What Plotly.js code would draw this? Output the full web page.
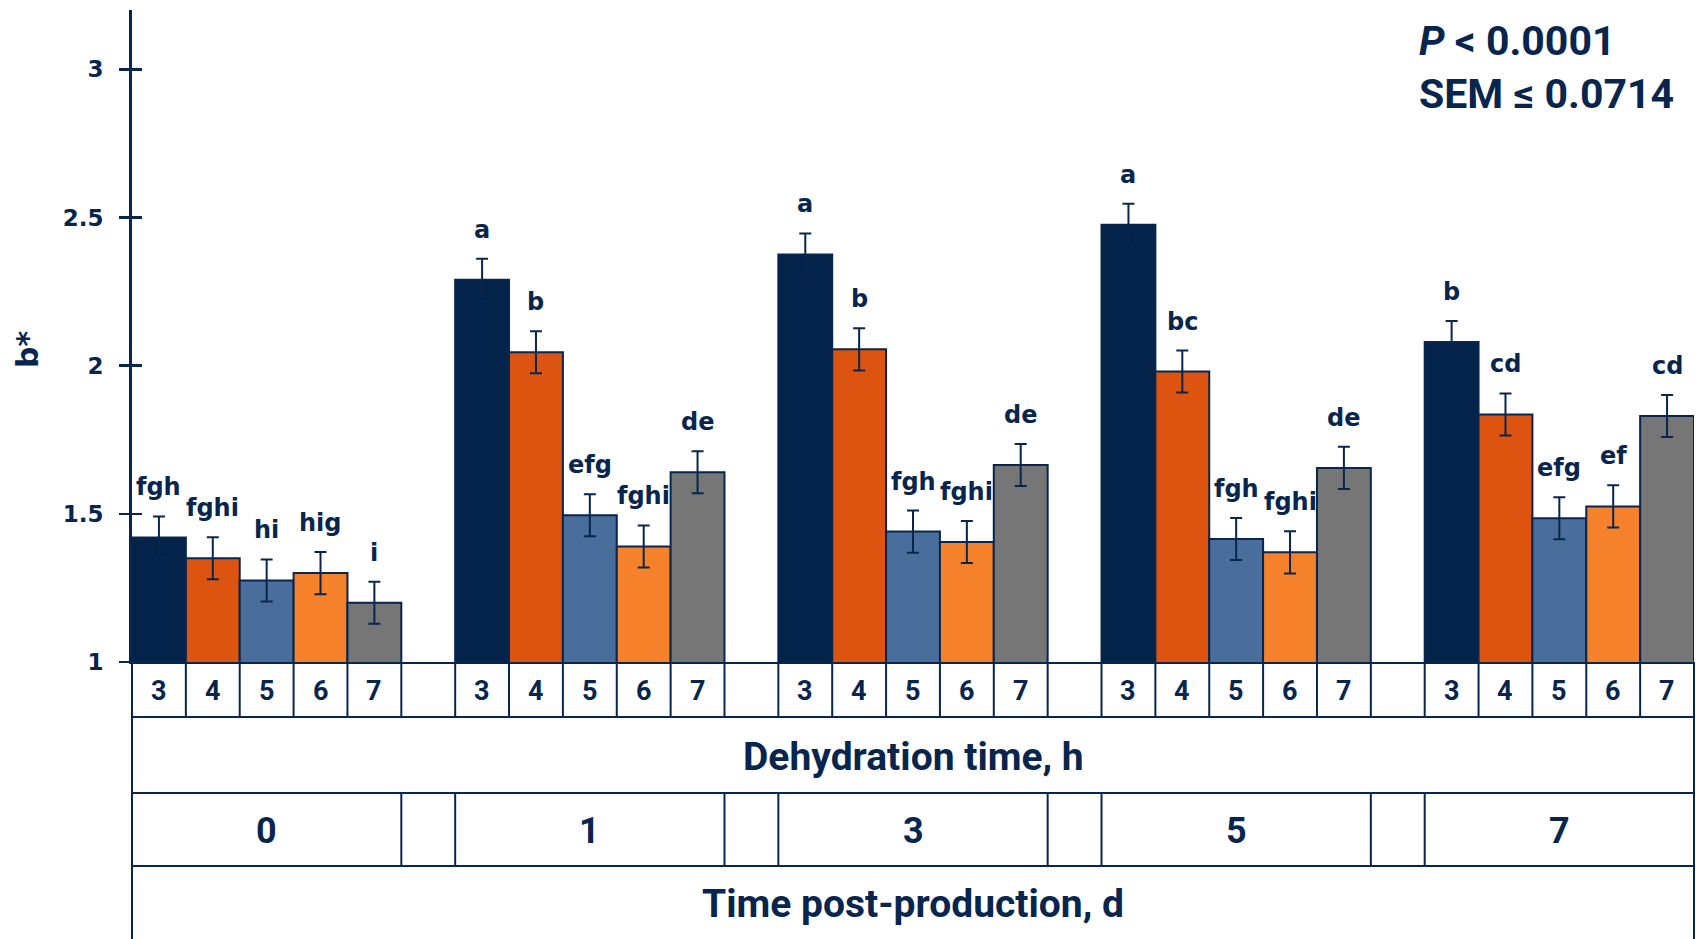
<!DOCTYPE html>
<html>
<head>
<meta charset="utf-8">
<script src="https://cdn.plot.ly/plotly-3.0.1.min.js"></script>
<style>
  html, body { margin: 0; padding: 0; background: #ffffff; }
  #chart { width: 1696px; height: 939px; }
</style>
</head>
<body>
<div id="chart"></div>
<script>
// ---- data ----
const postProductionDays = ['0', '1', '3', '5', '7'];
const dehydrationHours = ['3', '4', '5', '6', '7'];

const b_3h = [1.42, 2.29, 2.375, 2.475, 2.08];
const b_4h = [1.35, 2.045, 2.055, 1.98, 1.835];
const b_5h = [1.275, 1.495, 1.44, 1.415, 1.485];
const b_6h = [1.30, 1.39, 1.405, 1.37, 1.525];
const b_7h = [1.20, 1.64, 1.665, 1.655, 1.83];

const sem_3h = [0.071, 0.071, 0.071, 0.071, 0.071];
const sem_4h = [0.071, 0.071, 0.071, 0.071, 0.071];
const sem_5h = [0.071, 0.071, 0.071, 0.071, 0.071];
const sem_6h = [0.071, 0.071, 0.071, 0.071, 0.071];
const sem_7h = [0.071, 0.071, 0.071, 0.071, 0.071];

const letters_3h = ['fgh', 'a', 'a', 'a', 'b'];
const letters_4h = ['fghi', 'b', 'b', 'bc', 'cd'];
const letters_5h = ['hi', 'efg', 'fgh', 'fgh', 'efg'];
const letters_6h = ['hig', 'fghi', 'fghi', 'fghi', 'ef'];
const letters_7h = ['i', 'de', 'de', 'de', 'cd'];

const yTickVals = [1, 1.5, 2, 2.5, 3];
const yTickText = ['1', '1.5', '2', '2.5', '3'];

const pText = '<i>P</i> < 0.0001';
const semText = 'SEM ≤ 0.0714';
const rowTitle1 = 'Dehydration time, h';
const rowTitle2 = 'Time post-production, d';
const yTitle = 'b*';

// ---- styling ----
const NAVY = '#08264d';
const colors = ['#04234a', '#dc5410', '#4a6e9b', '#f5822b', '#767676'];
const series = [b_3h, b_4h, b_5h, b_6h, b_7h];
const sems = [sem_3h, sem_4h, sem_5h, sem_6h, sem_7h];
const letters = [letters_3h, letters_4h, letters_5h, letters_6h, letters_7h];

const nG = postProductionDays.length;
const nH = dehydrationHours.length;
const slot = nH + 1;               // 5 bars + 1 empty slot per group
const nSlots = nG * slot - 1;      // 29
const xPos = (g, h) => g * slot + h;

const traces = series.map((vals, h) => ({
  type: 'bar',
  x: vals.map((v, g) => xPos(g, h)),
  y: vals,
  width: 1,
  marker: { color: colors[h], line: { color: NAVY, width: 2 } },
  error_y: { type: 'data', array: sems[h], visible: true, color: NAVY, thickness: 2, width: 6 },
  name: dehydrationHours[h] + ' h',
  showlegend: false,
  hoverinfo: 'y'
}));
// invisible helper trace so the overlay axis draws the inner tick marks
traces.push({ type: 'scatter', x: [0], y: [1], yaxis: 'y2', mode: 'markers',
  marker: { opacity: 0 }, showlegend: false, hoverinfo: 'skip' });

// ---- table geometry (paper y) ----
const rowLines = [0, -0.0843, -0.2009, -0.3129];
const tableBottom = -0.43;
const rowTextY = [-0.0445, -0.1458, -0.2592, -0.3712];

const shapes = [];
const lineStyle = { color: NAVY, width: 2 };
rowLines.slice(1).forEach(y => shapes.push({ type: 'line', xref: 'paper', yref: 'paper',
  x0: 0, x1: 1, y0: y, y1: y, line: lineStyle }));
[0, 1].forEach(x => shapes.push({ type: 'line', xref: 'paper', yref: 'paper',
  x0: x, x1: x, y0: 0, y1: tableBottom, line: lineStyle }));
for (let k = 0; k < nSlots - 1; k++) {
  shapes.push({ type: 'line', xref: 'x', yref: 'paper', x0: k + 0.5, x1: k + 0.5,
    y0: rowLines[0], y1: rowLines[1], line: lineStyle });
}
for (let g = 0; g < nG - 1; g++) {
  [g * slot + nH - 0.5, g * slot + nH + 0.5].forEach(x => shapes.push({ type: 'line',
    xref: 'x', yref: 'paper', x0: x, x1: x, y0: rowLines[2], y1: rowLines[3], line: lineStyle }));
}

const annotations = [];
const numFont = { family: 'Roboto', size: 27, color: NAVY, weight: 'bold' };
for (let g = 0; g < nG; g++) {
  for (let h = 0; h < nH; h++) {
    annotations.push({ xref: 'x', yref: 'paper', x: xPos(g, h), y: rowTextY[0],
      text: dehydrationHours[h], showarrow: false, font: numFont, yanchor: 'middle' });
  }
  annotations.push({ xref: 'x', yref: 'paper', x: g * slot + (nH - 1) / 2, y: rowTextY[2],
    text: postProductionDays[g], showarrow: false, font: { ...numFont, size: 36 }, yanchor: 'middle' });
}
const titleFont = { family: 'Roboto', size: 39, color: NAVY, weight: 'bold' };
annotations.push({ xref: 'paper', yref: 'paper', x: 0.5, y: rowTextY[1], text: rowTitle1,
  showarrow: false, font: titleFont, yanchor: 'middle' });
annotations.push({ xref: 'paper', yref: 'paper', x: 0.5, y: rowTextY[3], text: rowTitle2,
  showarrow: false, font: titleFont, yanchor: 'middle' });

// significance letters
letters.forEach((arr, h) => arr.forEach((t, g) => {
  annotations.push({ xref: 'x', yref: 'y', x: xPos(g, h), y: series[h][g] + sems[h][g],
    text: t, showarrow: false, yanchor: 'middle', yshift: 29,
    font: { family: 'DejaVu Sans', size: 24, color: NAVY, weight: 'bold' } });
}));

// stats text
const statFont = { family: 'Roboto', size: 41, color: NAVY, weight: 'bold' };
annotations.push({ xref: 'paper', yref: 'paper', x: 0.8227, y: 0.9525, xanchor: 'left', yanchor: 'middle',
  text: pText, showarrow: false, font: statFont });
annotations.push({ xref: 'paper', yref: 'paper', x: 0.8227, y: 0.8712, xanchor: 'left', yanchor: 'middle',
  text: semText, showarrow: false, font: statFont });

// y-axis title
annotations.push({ xref: 'paper', yref: 'paper', x: 0, xshift: -105, y: 0.4785, textangle: -90,
  text: yTitle, showarrow: false, xanchor: 'center', yanchor: 'middle',
  font: { family: 'DejaVu Sans', size: 30, color: NAVY, weight: 'bold' } });

const layout = {
  width: 1696, height: 939,
  margin: { l: 132, r: 2, t: 10, b: 277 },
  paper_bgcolor: '#ffffff', plot_bgcolor: '#ffffff',
  barmode: 'overlay', bargap: 0,
  showlegend: false,
  xaxis: {
    range: [-0.5, nSlots - 0.5], showgrid: false, zeroline: false,
    showticklabels: false, ticks: '', showline: true, linecolor: NAVY, linewidth: 2, fixedrange: true
  },
  yaxis: {
    range: [1, 3.2], tickvals: yTickVals, ticktext: yTickText, showgrid: false, zeroline: false,
    ticks: 'outside', ticklen: 10, tickwidth: 2.5, tickcolor: NAVY, ticklabelstandoff: 11,
    showline: true, linecolor: NAVY, linewidth: 3,
    tickfont: { family: 'DejaVu Sans', size: 23, color: NAVY, weight: 'bold' }, fixedrange: true
  },
  yaxis2: {
    overlaying: 'y', side: 'left', range: [1, 3.2], tickvals: yTickVals, showgrid: false,
    zeroline: false, showticklabels: false, ticks: 'inside', ticklen: 10, tickwidth: 2.5,
    tickcolor: NAVY, showline: false, fixedrange: true
  },
  shapes: shapes,
  annotations: annotations
};

Plotly.newPlot('chart', traces, layout, { displayModeBar: false, staticPlot: true });
</script>
</body>
</html>
